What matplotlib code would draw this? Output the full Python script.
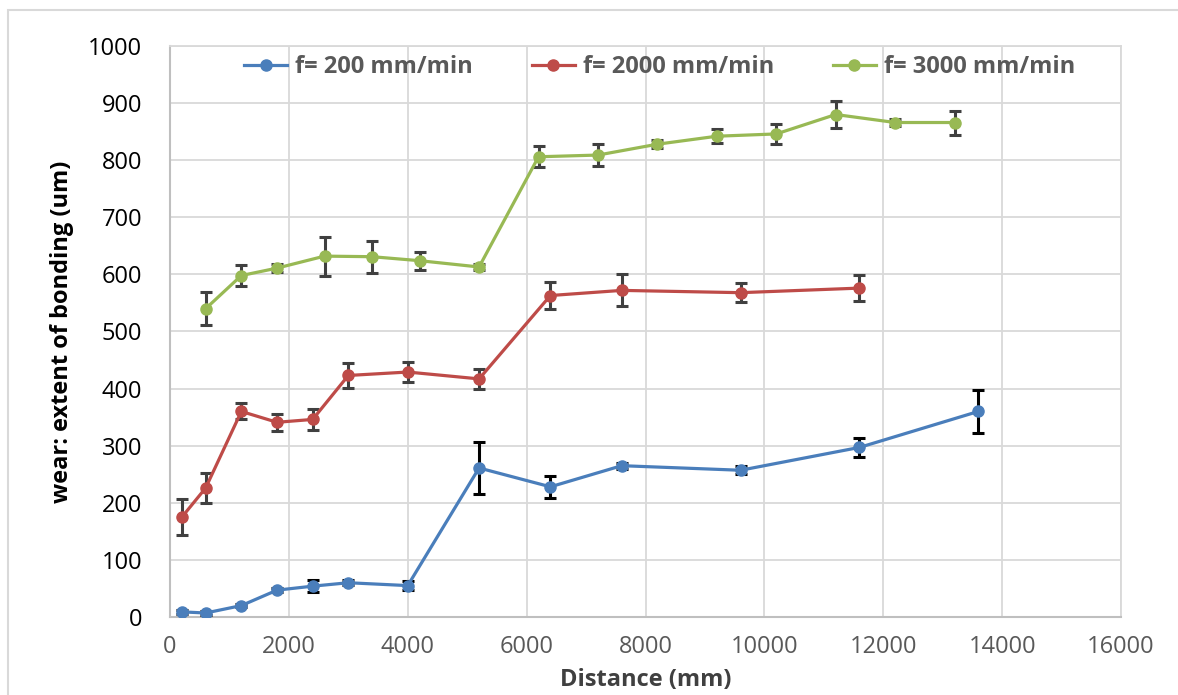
import matplotlib
matplotlib.use('Agg')
import matplotlib.pyplot as plt
from matplotlib.patches import Rectangle

# f = 200 mm/min
dist_200 = [200, 600, 1200, 1800, 2400, 3000, 4000, 5200, 6400, 7600, 9600, 11600, 13600]
wear_200 = [9, 7, 20, 47, 54, 60, 55, 261, 228, 265, 257, 297, 360]
err_200 = [3, 3, 3, 4, 10, 4, 8, 46, 19, 5, 7, 16, 38]

# f = 2000 mm/min
dist_2000 = [200, 600, 1200, 1800, 2400, 3000, 4000, 5200, 6400, 7600, 9600, 11600]
wear_2000 = [175, 226, 360, 341, 346, 423, 429, 417, 563, 572, 568, 576]
err_2000 = [31, 26, 14, 15, 18, 22, 18, 17, 24, 28, 17, 23]

# f = 3000 mm/min
dist_3000 = [600, 1200, 1800, 2600, 3400, 4200, 5200, 6200, 7200, 8200, 9200, 10200, 11200, 12200, 13200]
wear_3000 = [540, 598, 611, 632, 631, 624, 613, 806, 809, 828, 842, 846, 880, 866, 866]
err_3000 = [29, 19, 7, 34, 28, 16, 6, 18, 19, 7, 12, 18, 23, 6, 21]

labels = ['f= 200 mm/min', 'f= 2000 mm/min', 'f= 3000 mm/min']
colors = ['#4a7ebb', '#be4b48', '#98b954']
err_colors = ['black', '#404040', '#404040']

plt.rcParams['font.family'] = ['Open Sans', 'DejaVu Sans']

fig = plt.figure(figsize=(11.78, 6.95), dpi=100)
ax = fig.add_axes([170 / 1178, 1 - 617 / 695, (1121 - 170) / 1178, (617 - 46) / 695])

# outer chart frame
fig.patches.append(Rectangle((8 / 1178, -0.1), 1.2, 1 - 10 / 695 + 0.1,
                             transform=fig.transFigure, fill=False,
                             edgecolor='#d9d9d9', linewidth=1.5))

series = [(dist_200, wear_200, err_200), (dist_2000, wear_2000, err_2000),
          (dist_3000, wear_3000, err_3000)]
for (x, y, e), lab, c, ec in zip(series, labels, colors, err_colors):
    ax.errorbar(x, y, yerr=e, fmt='none', ecolor=ec, elinewidth=2.2,
                capsize=4.5, capthick=2.2, zorder=3)
    ax.plot(x, y, '-o', color=c, lw=2.3, ms=8, label=lab, zorder=4)

ax.set_xlim(0, 16000)
ax.set_ylim(0, 1000)
ax.set_xticks(range(0, 16001, 2000))
ax.set_yticks(range(0, 1001, 100))
ax.grid(True, color='#d9d9d9', lw=1.3)
ax.set_axisbelow(True)
ax.tick_params(length=0, labelsize=17)
ax.tick_params(axis='x', colors='#595959', pad=13)
ax.tick_params(axis='y', colors='black', pad=20)
for s in ['top', 'right']:
    ax.spines[s].set_color('#d9d9d9')
    ax.spines[s].set_linewidth(1.3)
for s in ['left', 'bottom']:
    ax.spines[s].set_color('#bfbfbf')
    ax.spines[s].set_linewidth(1.5)

ax.set_ylabel('wear: extent of bonding (um)', fontsize=17, fontweight='bold', color='black', labelpad=10)
# x label sits tight under the tick labels, as in the original
fig.text((170 + 1121) / 2 / 1178, 1 - 680 / 695, 'Distance (mm)', fontsize=17,
         fontweight='bold', color='#404040', ha='center', va='center')

leg = ax.legend(loc='upper center', ncol=3, frameon=False, bbox_to_anchor=(0.515, 1.0),
                prop={'size': 17, 'weight': 'bold'}, handlelength=1.8, handletextpad=0.35,
                columnspacing=2.5, borderaxespad=0.0)
for t in leg.get_texts():
    t.set_color('#595959')

fig.savefig('out.png', dpi=100)
